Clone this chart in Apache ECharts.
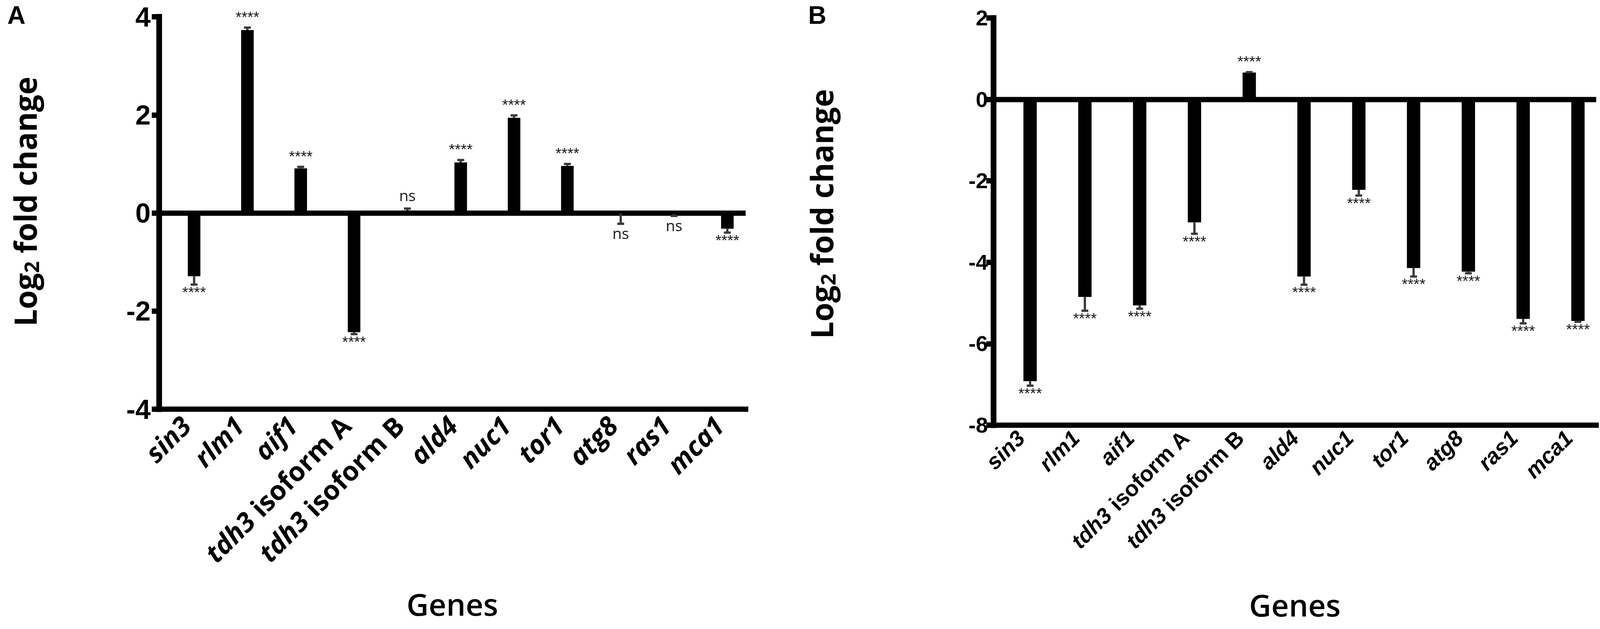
<!DOCTYPE html>
<html>
<head>
<meta charset="utf-8">
<script src="https://cdn.jsdelivr.net/npm/echarts@6/dist/echarts.min.js"></script>
<style>
  html, body { margin: 0; padding: 0; background: #fff; overflow: hidden; }
  #chart { width: 100vw; height: 100vh; }
</style>
</head>
<body>
<div id="chart"></div>
<script>
// genes on the x axis (same order in both panels)
var genes = ['sin3', 'rlm1', 'aif1', 'tdh3 isoform A', 'tdh3 isoform B', 'ald4', 'nuc1', 'tor1', 'atg8', 'ras1', 'mca1'];

// panel A: log2 fold change, control is the 0 reference
var ctrlA = [0, 0, 0, 0, 0, 0, 0, 0, 0, 0, 0];
var meanA = [-1.29, 3.73, 0.91, -2.43, 0.05, 1.03, 1.94, 0.96, -0.01, -0.02, -0.32];
var semA  = [0.17, 0.05, 0.03, 0.04, 0.04, 0.05, 0.05, 0.04, 0.21, 0.04, 0.08];
var sigA  = ['****', '****', '****', '****', 'ns', '****', '****', '****', 'ns', 'ns', '****'];

// panel B
var ctrlB = [0, 0, 0, 0, 0, 0, 0, 0, 0, 0, 0];
var meanB = [-6.92, -4.85, -5.06, -3.02, 0.66, -4.35, -2.22, -4.14, -4.23, -5.39, -5.44];
var semB  = [0.11, 0.34, 0.08, 0.28, 0.01, 0.20, 0.14, 0.21, 0.04, 0.11, 0.02];
var sigB  = ['****', '****', '****', '****', '****', '****', '****', '****', '****', '****', '****'];

var ticksA = { min: -4, max: 4, interval: 2 };
var ticksB = { min: -8, max: 2, interval: 2 };

// layout is designed for 4195 x 1611 and scaled to the real viewport
var el = document.getElementById('chart');
var sx = el.clientWidth / 4195, sy = el.clientHeight / 1611, sf = Math.min(sx, sy);
function X(v) { return v * sx; }
function Y(v) { return v * sy; }
function F(v) { return v * sf; }

var BAR_A = X(33), GAP_A = 0.33;
var BAR_B = X(35), GAP_B = 0.37;

var chart = echarts.init(el, null, { renderer: 'svg' });

function geneLabel(name) {
  if (name.indexOf('tdh3 ') === 0) {
    return '{i|tdh3}' + name.slice(4);
  }
  return '{i|' + name + '}';
}

function errData(mean, sem) {
  return mean.map(function (v, i) {
    return [i, v, v < 0 ? v - sem[i] : v + sem[i]];
  });
}

function errRenderer(sig, off, capW) {
  return function (params, api) {
    var v = api.value(1), e = api.value(2);
    var p0 = api.coord([api.value(0), v]);
    var p1 = api.coord([api.value(0), e]);
    var x = p0[0] + off;
    var up = v >= 0;
    var txt = sig[params.dataIndex];
    var ns = txt === 'ns';
    var ty = up ? p1[1] - F(ns ? 16 : 8) : p1[1] + F(ns ? 4 : 0);
    return {
      type: 'group',
      children: [
        { type: 'line', shape: { x1: x, y1: p0[1], x2: x, y2: p1[1] },
          style: { stroke: '#3a3a3a', lineWidth: F(6) } },
        { type: 'line', shape: { x1: x - capW / 2, y1: p1[1], x2: x + capW / 2, y2: p1[1] },
          style: { stroke: '#3a3a3a', lineWidth: F(6) } },
        { type: 'text', x: x, y: ty,
          style: {
            text: txt, align: 'center', verticalAlign: up ? 'bottom' : 'top',
            fontSize: F(40), fontFamily: ns ? 'Open Sans' : 'Liberation Sans', fill: '#1a1a1a'
          } }
      ]
    };
  };
}

function xAxisFor(k, fontSize, fontFamily, margin, nameGap) {
  return {
    gridIndex: k,
    type: 'category',
    data: genes,
    position: 'bottom',
    axisLine: { onZero: false, lineStyle: { color: '#000', width: F(14), cap: 'square' } },
    axisTick: { alignWithLabel: true, length: F(19), lineStyle: { color: '#000', width: F(13) } },
    axisLabel: {
      interval: 0, rotate: 45, margin: F(margin), color: '#000',
      fontSize: F(fontSize), fontWeight: 'bold', fontFamily: fontFamily,
      formatter: geneLabel,
      rich: {
        i: { fontSize: F(fontSize), fontWeight: 'bold', fontStyle: 'italic', fontFamily: fontFamily, color: '#000' }
      }
    },
    name: 'Genes',
    nameLocation: 'middle',
    nameGap: F(nameGap),
    nameTextStyle: { fontSize: F(80), fontWeight: 600, fontFamily: 'Open Sans', color: '#000', lineHeight: F(78) }
  };
}

function yAxisFor(k, ticks, fontSize, margin, nameGap, lift) {
  return {
    gridIndex: k,
    type: 'value',
    min: ticks.min, max: ticks.max, interval: ticks.interval,
    axisLine: { show: true, lineStyle: { color: '#000', width: F(15), cap: 'square' } },
    axisTick: { show: true, length: F(19), lineStyle: { color: '#000', width: F(14) } },
    splitLine: { show: false },
    axisLabel: { fontSize: F(fontSize), fontWeight: 'bold', fontFamily: 'Liberation Sans', color: '#000', margin: F(margin) },
    name: 'Log{s|2} fold change',
    nameLocation: 'middle',
    nameRotate: 90,
    nameGap: F(nameGap),
    nameTextStyle: {
      fontSize: F(80), fontWeight: 'bold', fontFamily: 'Open Sans', color: '#000', lineHeight: F(86),
      padding: [0, 0, 0, F(lift)],
      rich: {
        s: { fontSize: F(54), fontWeight: 'bold', fontFamily: 'Open Sans', color: '#000',
             lineHeight: F(54), verticalAlign: 'bottom' }
      }
    }
  };
}

function zeroLine() {
  return {
    silent: true,
    symbol: ['none', 'none'],
    label: { show: false },
    lineStyle: { color: '#000', width: F(14), type: 'solid' },
    data: [{ yAxis: 0 }]
  };
}

var option = {
  backgroundColor: '#fff',
  animation: false,
  title: [
    { text: 'A', left: X(14), top: Y(2), textStyle: { fontSize: F(66), fontWeight: 'bold', fontFamily: 'Liberation Sans', color: '#000' } },
    { text: 'B', left: X(2114), top: Y(2), textStyle: { fontSize: F(66), fontWeight: 'bold', fontFamily: 'Liberation Sans', color: '#000' } }
  ],
  grid: [
    { left: X(417), width: X(1538), top: Y(43), height: Y(1005) },
    { left: X(2605), width: X(1580), top: Y(46), height: Y(1043) }
  ],
  xAxis: [
    xAxisFor(0, 70, 'Open Sans', 30, 472),
    xAxisFor(1, 58, 'Liberation Sans', 24, 432)
  ],
  yAxis: [
    yAxisFor(0, ticksA, 72, 22, 308, 60),
    yAxisFor(1, ticksB, 57, 15, 408, 40)
  ],
  series: [
    { type: 'bar', xAxisIndex: 0, yAxisIndex: 0, data: ctrlA, barWidth: BAR_A, barGap: GAP_A * 100 + '%',
      itemStyle: { color: '#000' }, silent: true },
    { type: 'bar', xAxisIndex: 0, yAxisIndex: 0, data: meanA, barWidth: BAR_A, barGap: GAP_A * 100 + '%',
      itemStyle: { color: '#000' }, silent: true, markLine: zeroLine() },
    { type: 'custom', xAxisIndex: 0, yAxisIndex: 0, data: errData(meanA, semA), z: 5, silent: true,
      encode: { x: 0, y: 2 }, renderItem: errRenderer(sigA, BAR_A * (1 + GAP_A) / 2, X(18)) },

    { type: 'bar', xAxisIndex: 1, yAxisIndex: 1, data: ctrlB, barWidth: BAR_B, barGap: GAP_B * 100 + '%',
      itemStyle: { color: '#000' }, silent: true },
    { type: 'bar', xAxisIndex: 1, yAxisIndex: 1, data: meanB, barWidth: BAR_B, barGap: GAP_B * 100 + '%',
      itemStyle: { color: '#000' }, silent: true, markLine: zeroLine() },
    { type: 'custom', xAxisIndex: 1, yAxisIndex: 1, data: errData(meanB, semB), z: 5, silent: true,
      encode: { x: 0, y: 2 }, renderItem: errRenderer(sigB, BAR_B * (1 + GAP_B) / 2, X(18)) }
  ]
};

chart.setOption(option);
</script>
</body>
</html>
